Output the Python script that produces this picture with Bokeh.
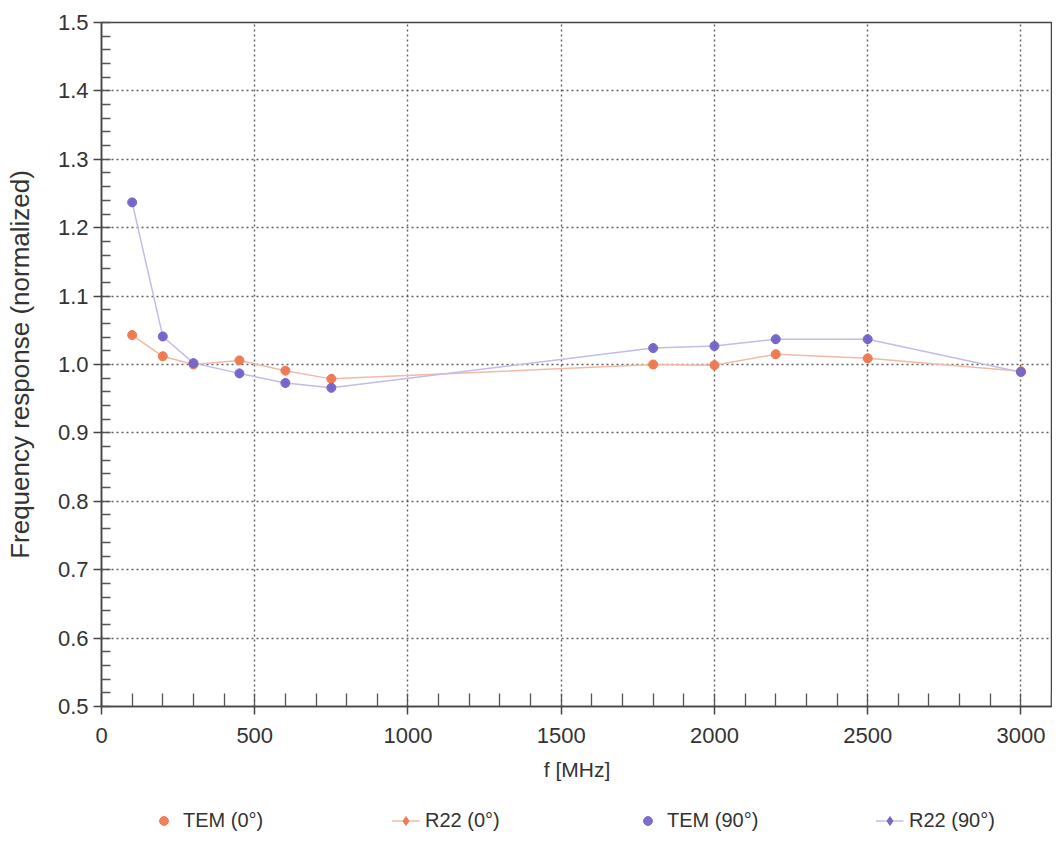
from bokeh.plotting import figure
from bokeh.layouts import column
from bokeh.models import Range1d, Legend, LegendItem, SingleIntervalTicker, PrintfTickFormatter
from bokeh.embed import file_html
from bokeh.resources import INLINE

# ---- data ----
freq_mhz = [100, 200, 300, 450, 600, 750, 1800, 2000, 2200, 2500, 3000]
tem_0 = [1.043, 1.012, 1.000, 1.006, 0.991, 0.979, 1.000, 0.999, 1.015, 1.009, 0.990]
tem_90 = [1.237, 1.041, 1.002, 0.987, 0.973, 0.966, 1.024, 1.027, 1.037, 1.037, 0.989]
r22_0 = [1.043, 1.012, 1.000, 1.006, 0.991, 0.979, 1.000, 0.999, 1.015, 1.009, 0.990]
r22_90 = [1.237, 1.041, 1.002, 0.987, 0.973, 0.966, 1.024, 1.027, 1.037, 1.037, 0.989]
series_labels = ["TEM (0°)", "R22 (0°)", "TEM (90°)", "R22 (90°)"]

ORANGE = "#ee7a52"
BLUE = "#7466c9"
ORANGE_LINE = "#f2b9a6"
BLUE_LINE = "#c2bce6"
FONT = "Liberation Sans"
TXT = "#333333"


def add_series(fig):
    r0l = fig.line(freq_mhz, r22_0, line_color=ORANGE_LINE, line_width=1.5)
    r0p = fig.scatter(freq_mhz, r22_0, marker="diamond", size=9,
                      fill_color=ORANGE, line_color=ORANGE)
    r9l = fig.line(freq_mhz, r22_90, line_color=BLUE_LINE, line_width=1.5)
    r9p = fig.scatter(freq_mhz, r22_90, marker="diamond", size=9,
                      fill_color=BLUE, line_color=BLUE)
    t0 = fig.scatter(freq_mhz, tem_0, marker="circle", size=9,
                     fill_color=ORANGE, line_color=ORANGE, fill_alpha=0.95)
    t9 = fig.scatter(freq_mhz, tem_90, marker="circle", size=9,
                     fill_color=BLUE, line_color=BLUE, fill_alpha=0.95)
    return r0l, r0p, r9l, r9p, t0, t9


p = figure(frame_width=951, frame_height=684,
           x_range=Range1d(0, 3103), y_range=Range1d(0.5, 1.5),
           output_backend="svg", toolbar_location=None,
           min_border_left=101, min_border_right=0,
           min_border_top=22, min_border_bottom=0)
p.background_fill_color = "white"
p.border_fill_color = "white"
p.outline_line_color = "#444444"
p.outline_line_width = 1.5

# axes
p.xaxis.ticker = SingleIntervalTicker(interval=500, num_minor_ticks=5)
p.yaxis.ticker = SingleIntervalTicker(interval=0.1, num_minor_ticks=5)
p.yaxis.formatter = PrintfTickFormatter(format="%.1f")
for ax in (p.xaxis[0], p.yaxis[0]):
    ax.axis_line_color = "#444444"
    ax.axis_line_width = 1.5
    ax.major_tick_line_color = "#444444"
    ax.major_tick_line_width = 1.5
    ax.major_tick_out = 8
    ax.major_tick_in = 0
    ax.minor_tick_line_color = "#555555"
    ax.minor_tick_line_width = 1.3
    ax.minor_tick_out = 0
    ax.major_label_text_font = FONT
    ax.major_label_text_font_size = "22px"
    ax.major_label_text_color = TXT
    ax.axis_label_text_font = FONT
    ax.axis_label_text_font_style = "normal"
    ax.axis_label_text_color = TXT
p.xaxis.axis_label_text_font_size = "21px"
p.yaxis.axis_label_text_font_size = "26px"
p.xaxis.minor_tick_in = 13
p.yaxis.minor_tick_in = 9
p.xaxis.major_label_standoff = 13
p.yaxis.major_label_standoff = 5
p.xaxis.axis_label = "f [MHz]"
p.yaxis.axis_label = "Frequency response (normalized)"
p.xaxis.axis_label_standoff = 12
p.yaxis.axis_label_standoff = 20

# grid
for g in (p.xgrid[0], p.ygrid[0]):
    g.grid_line_color = "#444444"
    g.grid_line_dash = "2 3"
    g.grid_line_width = 1.4
    g.grid_line_alpha = 0.85

add_series(p)

# ---- legend strip below the chart ----
lf = figure(frame_width=951, frame_height=46,
            x_range=Range1d(0, 3103), y_range=Range1d(5, 6),
            x_axis_type=None, y_axis_type=None,
            output_backend="svg", toolbar_location=None,
            min_border_left=101, min_border_right=0,
            min_border_top=14, min_border_bottom=0)
lf.outline_line_color = None
lf.xgrid.visible = False
lf.ygrid.visible = False
lf.border_fill_color = "white"
r0l, r0p, r9l, r9p, t0, t9 = add_series(lf)

legend = Legend(items=[
    LegendItem(label=series_labels[0], renderers=[t0]),
    LegendItem(label=series_labels[1], renderers=[r0l, r0p]),
    LegendItem(label=series_labels[2], renderers=[t9]),
    LegendItem(label=series_labels[3], renderers=[r9l, r9p]),
], orientation="horizontal", location="center")
legend.background_fill_alpha = 0
legend.border_line_color = None
legend.label_text_font = FONT
legend.label_text_font_size = "20px"
legend.label_text_color = TXT
legend.glyph_width = 28
legend.glyph_height = 22
legend.label_standoff = 6
legend.label_width = 95
legend.spacing = 113
legend.padding = 0
legend.margin = 0
lf.add_layout(legend, "center")

layout = column(p, lf, spacing=0)
open("out.html", "w").write(file_html(layout, INLINE))
